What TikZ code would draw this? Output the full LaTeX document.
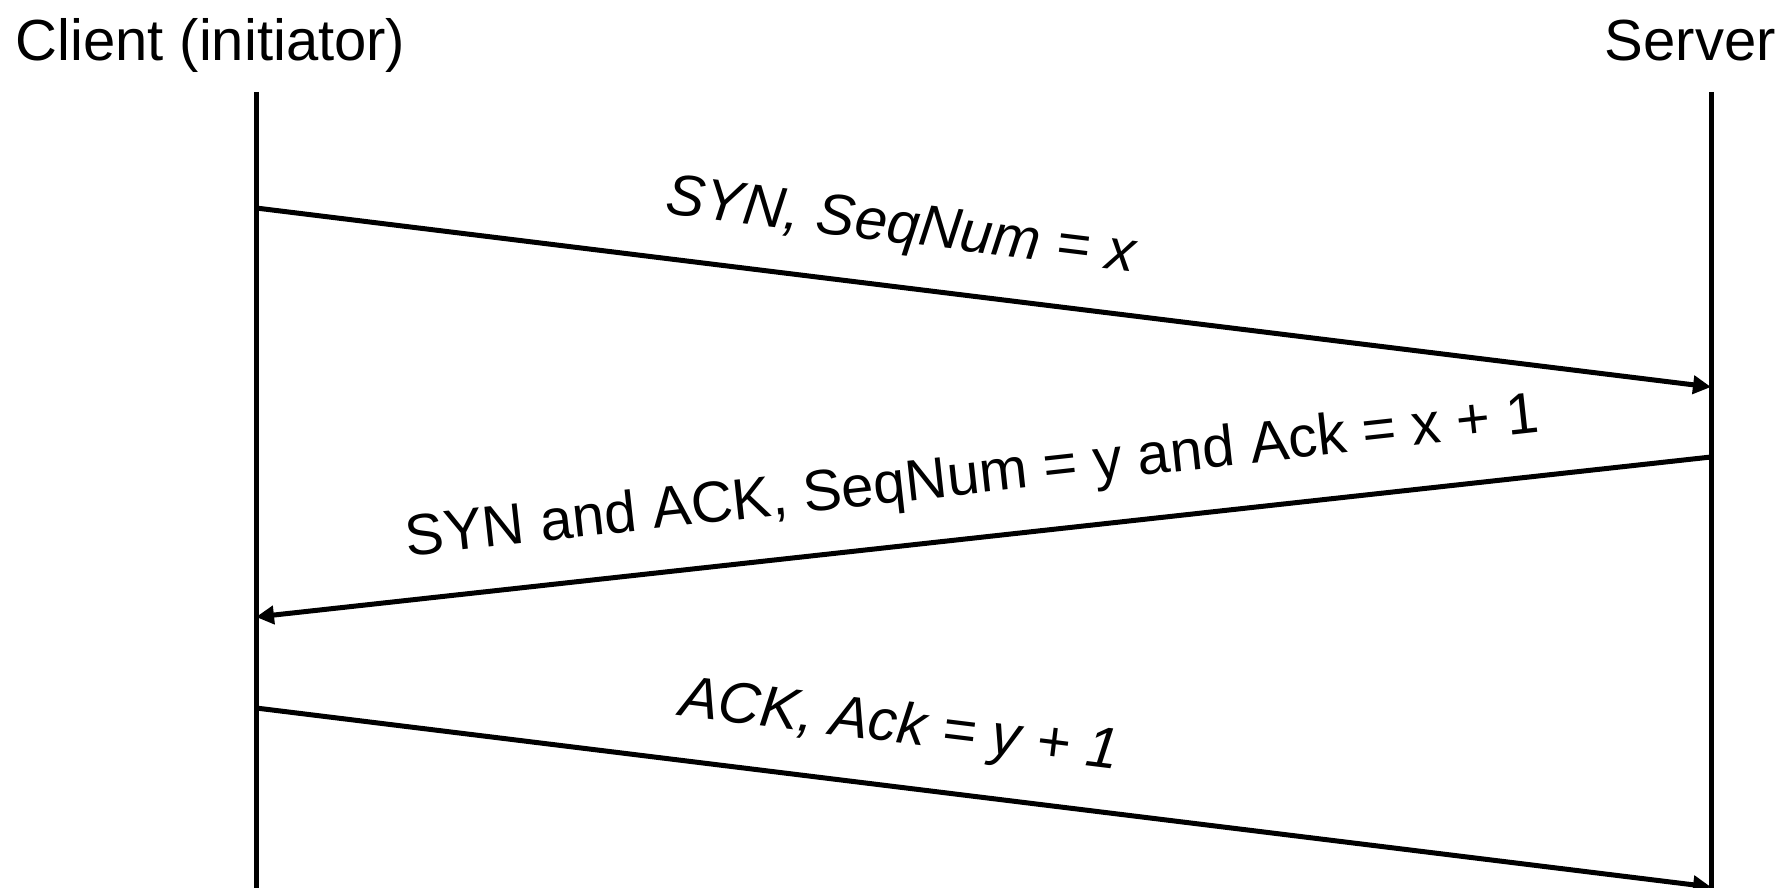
\documentclass[tikz,border=0pt]{standalone}
\usepackage{fontspec}
\setmainfont{Liberation Sans}
\usetikzlibrary{arrows.meta}
\begin{document}
\begin{tikzpicture}[x=0.5pt,y=-0.5pt,
  lifeline/.style={line width=2.5pt},
  msg/.style={line width=2.5pt,-{Triangle[length=9pt,width=9pt]}},
  party/.style={inner sep=0pt,font=\fontsize{29}{35}\selectfont},
  msglabel/.style={inner sep=0pt,sloped,anchor=base,yshift=22pt,font=\fontsize{29}{35}\selectfont},
  msgitalic/.style={msglabel,font=\fontsize{29}{35}\selectfont\itshape}]
\useasboundingbox (0,0) rectangle (1790,888);

% participants
\node[party,anchor=base west] (client) at (15,61) {Client (initiator)};
\node[party,anchor=base east] (server) at (1776,61) {Server};

% lifelines
\coordinate (ctop) at (256,92);
\coordinate (cbot) at (256,888);
\coordinate (stop) at (1711,92);
\coordinate (sbot) at (1711,888);
\draw[lifeline] (ctop) -- (cbot);
\draw[lifeline] (stop) -- (sbot);

% message end points on the lifelines
\coordinate (c1) at (256,208);
\coordinate (s1) at (1711,387);
\coordinate (s2) at (1711,457);
\coordinate (c2) at (256,617);
\coordinate (c3) at (256,708);
\coordinate (s3) at (1711,887);

% three-way handshake
\draw[msg] (c1) -- node[msgitalic,pos=0.438] (syn) {SYN, SeqNum = x} (s1);
\draw[msg] (s2) -- node[msglabel,pos=0.503] (synack) {SYN and ACK, SeqNum = y and Ack = x + 1} (c2);
\draw[msg] (c3) -- node[msgitalic,pos=0.437] (ack) {ACK, Ack = y + 1} (s3);
\end{tikzpicture}
\end{document}
